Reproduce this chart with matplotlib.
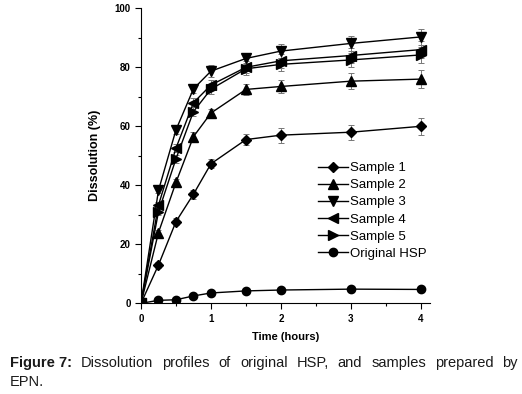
import matplotlib
matplotlib.use("Agg")
import matplotlib.pyplot as plt
from matplotlib.ticker import MultipleLocator

plt.rcParams.update({
    "font.family": ["Liberation Sans", "DejaVu Sans"],
    "font.size": 9,
})

# time points (hours)
time = [0, 0.25, 0.5, 0.75, 1, 1.5, 2, 3, 4]

# dissolution (%)
sample1 = [0, 13.0, 27.7, 37.0, 47.3, 55.5, 57.0, 58.0, 60.0]
sample2 = [0, 24.0, 41.0, 56.5, 64.5, 72.5, 73.5, 75.3, 76.0]
sample3 = [0, 38.3, 58.8, 72.7, 78.7, 83.0, 85.5, 88.1, 90.3]
sample4 = [0, 33.3, 52.6, 68.0, 74.0, 80.0, 82.2, 84.0, 86.0]
sample5 = [0, 31.0, 49.0, 65.0, 72.6, 79.5, 81.0, 82.5, 84.2]
hsp = [0, 1.0, 1.2, 2.5, 3.5, 4.2, 4.5, 4.8, 4.7]

# error bar half-widths (estimated)
err1 = [0, 1.0, 1.3, 1.5, 1.5, 2.0, 2.5, 2.5, 2.8]
err2 = [0, 1.0, 1.3, 1.5, 1.5, 2.0, 2.3, 2.8, 3.0]
err3 = [0, 1.0, 1.5, 1.5, 2.0, 2.0, 2.5, 2.5, 2.8]
err4 = [0, 1.0, 1.3, 1.5, 1.8, 2.0, 2.3, 2.5, 2.8]
err5 = [0, 1.0, 1.3, 1.5, 1.8, 2.0, 2.3, 2.5, 2.8]
errh = [0, 0.3, 0.3, 0.5, 0.5, 0.5, 0.5, 0.5, 0.5]

series = [
    ("Sample 1", sample1, err1, "D", 5.5),
    ("Sample 2", sample2, err2, "^", 7),
    ("Sample 3", sample3, err3, "v", 7),
    ("Sample 4", sample4, err4, "<", 7),
    ("Sample 5", sample5, err5, ">", 7),
    ("Original HSP", hsp, errh, "o", 6),
]

fig = plt.figure(figsize=(5.22, 3.94), dpi=100)
W, H = 522, 394
ax = fig.add_axes([141 / W, 1 - 303.3 / H, (430 - 141) / W, 295 / H])

for label, y, e, mk, ms in series:
    ax.errorbar(time, y, yerr=e, fmt="none", ecolor="#777777",
                elinewidth=0.7, capsize=2, capthick=0.7, zorder=2)
    ax.plot(time, y, marker=mk, markersize=ms, color="black",
            linewidth=1.0, label=label, zorder=3)

ax.set_xlim(0, 4.13)
ax.set_ylim(0, 100)
ax.xaxis.set_major_locator(MultipleLocator(1))
ax.xaxis.set_minor_locator(MultipleLocator(0.5))
ax.yaxis.set_major_locator(MultipleLocator(20))
ax.yaxis.set_minor_locator(MultipleLocator(10))
ax.tick_params(which="major", direction="out", length=4, width=0.8, labelsize=7)
ax.tick_params(which="minor", direction="out", length=2, width=0.8)
for lab in ax.get_xticklabels() + ax.get_yticklabels():
    lab.set_fontweight("bold")
ax.spines["top"].set_visible(False)
ax.spines["right"].set_visible(False)

ax.set_xlabel("Time (hours)", fontsize=8, fontweight="bold", labelpad=6)
ax.set_ylabel("Dissolution (%)", fontsize=9, fontweight="bold", labelpad=10)

ax.legend(loc="upper left", bbox_to_anchor=(318 / W, 1 - 162 / H),
          bbox_transform=fig.transFigure, frameon=False, fontsize=9.5,
          handlelength=2.3, handletextpad=0.15, labelspacing=0.37,
          borderpad=0, borderaxespad=0)

# caption, justified on the first line
cap_size = 10.5
y1 = 1 - 367 / H
y2 = 1 - 386 / H
left, right = 10 / W, 518 / W
renderer = fig.canvas.get_renderer()
words = [("Figure 7:", "bold"), ("Dissolution", "normal"), ("profiles", "normal"),
         ("of", "normal"), ("original", "normal"), ("HSP,", "normal"),
         ("and", "normal"), ("samples", "normal"), ("prepared", "normal"),
         ("by", "normal")]
texts = []
total = 0
for w, fw in words:
    t = fig.text(0, y1, w, fontsize=cap_size, fontweight=fw, color="#1a1a1a")
    wd = t.get_window_extent(renderer).width / W
    texts.append((t, wd))
    total += wd
gap = (right - left - total) / (len(words) - 1)
x = left
for t, wd in texts:
    t.set_x(x)
    x += wd + gap
fig.text(left, y2, "EPN.", fontsize=cap_size, color="#1a1a1a")

fig.savefig("out.png", dpi=100)
